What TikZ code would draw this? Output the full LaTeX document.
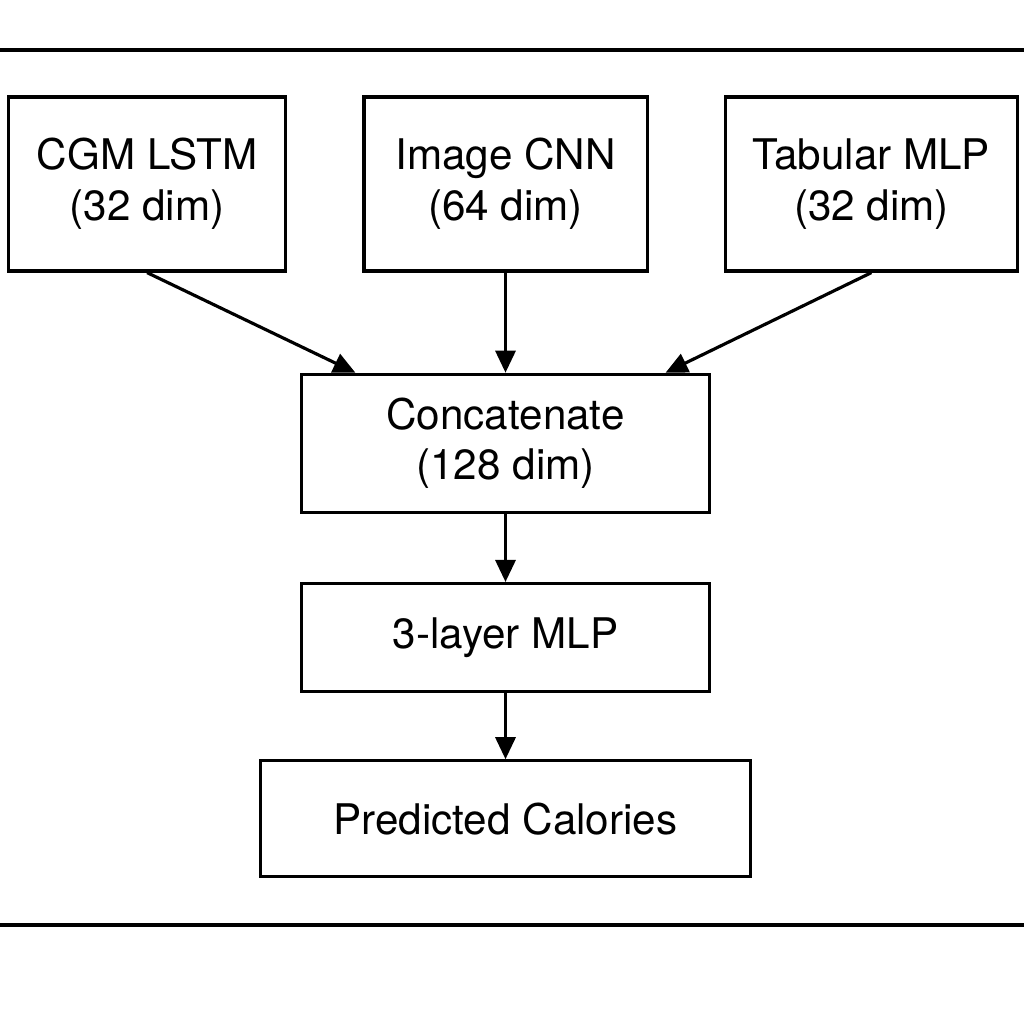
\documentclass[tikz,border=0pt]{standalone}
\usepackage{fontspec}
\setmainfont{TeX Gyre Heros}
\usetikzlibrary{positioning, arrows.meta}

\begin{document}
\begin{tikzpicture}[x=0.01cm, y=-0.01cm, >={Triangle[length=2.2mm, width=2mm]},
    block/.style={draw, line width=0.9pt, align=center, inner sep=0pt,
        font=\fontsize{12}{14.4}\selectfont},
    rule/.style={line width=1.1pt}]
    \useasboundingbox (0,0) rectangle (1024,1024);

    % Frame lines
    \draw[rule] (0,50) -- (1024,50);
    \draw[rule] (0,925) -- (1024,925);

    % Encoders
    \node[block, minimum width=2.83cm, minimum height=1.74cm] (cnn) at (505.5,184) {Image CNN\\(64 dim)};
    \node[block, minimum width=2.77cm, minimum height=1.74cm, left=0.75cm of cnn] (cgm) {CGM LSTM\\(32 dim)};
    \node[block, minimum width=2.92cm, minimum height=1.74cm, right=0.75cm of cnn] (tab) {Tabular MLP\\(32 dim)};

    % Fusion and head
    \node[block, minimum width=4.07cm, minimum height=1.38cm, below=1.00cm of cnn] (concat) {Concatenate\\(128 dim)};
    \node[block, minimum width=4.07cm, minimum height=1.08cm, below=0.68cm of concat] (mlp) {3-layer MLP};
    \node[block, minimum width=4.90cm, minimum height=1.16cm, below=0.66cm of mlp] (pred) {Predicted Calories};

    % Arrows
    \draw[->, line width=0.9pt] (cgm.south) -- ([xshift=-1.5cm]concat.north);
    \draw[->, line width=0.9pt] (cnn.south) -- (concat.north);
    \draw[->, line width=0.9pt] (tab.south) -- ([xshift=1.6cm]concat.north);
    \draw[->, line width=0.9pt] (concat) -- (mlp);
    \draw[->, line width=0.9pt] (mlp) -- (pred);
\end{tikzpicture}
\end{document}
